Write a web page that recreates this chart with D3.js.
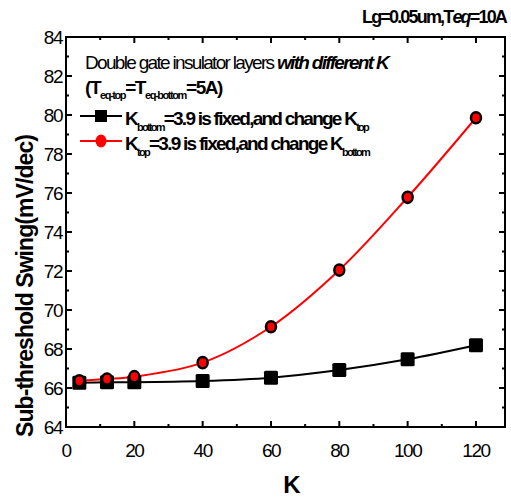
<!DOCTYPE html>
<html>
<head>
<meta charset="utf-8">
<script src="https://cdn.jsdelivr.net/npm/d3@7"></script>
<style>
  body { margin: 0; background: #fff; }
  text { font-family: "Liberation Sans", Arial, sans-serif; }
</style>
</head>
<body>
<svg id="chart" width="511" height="497"></svg>
<script>
// data
const kValues = [3.9, 12, 20, 40, 60, 80, 100, 120];
const swingTopChange = [66.27, 66.3, 66.3, 66.36, 66.53, 66.92, 67.47, 68.19];
const swingBottomChange = [66.37, 66.46, 66.58, 67.3, 69.14, 72.05, 75.78, 79.86];
const xTicks = [0, 20, 40, 60, 80, 100, 120];
const yTicks = [64, 66, 68, 70, 72, 74, 76, 78, 80, 82, 84];

const svg = d3.select("#chart");
const pLeft = 66, pRight = 505, pTop = 37, pBottom = 427;

const x = d3.scaleLinear().domain([0, 128.5]).range([pLeft, pRight]);
const y = d3.scaleLinear().domain([64, 84]).range([pBottom, pTop]);

// squeeze a text to a given width with letter spacing (the original font is very tight)
function fitWidth(sel, target) {
  const n = sel.text().length;
  const w = sel.node().getComputedTextLength();
  sel.attr("letter-spacing", (target - w) / n);
}

// frame
svg.append("rect")
  .attr("x", pLeft).attr("y", pTop)
  .attr("width", pRight - pLeft).attr("height", pBottom - pTop)
  .attr("fill", "none").attr("stroke", "#000").attr("stroke-width", 2);

// ticks (inward, all four sides)
const xMinor = d3.range(10, 128, 20);
const yMinor = d3.range(65, 84, 2);
const tickG = svg.append("g").attr("stroke", "#000").attr("stroke-width", 2);
xTicks.forEach(v => {
  tickG.append("line").attr("x1", x(v)).attr("x2", x(v)).attr("y1", pBottom).attr("y2", pBottom - 6);
  tickG.append("line").attr("x1", x(v)).attr("x2", x(v)).attr("y1", pTop).attr("y2", pTop + 6);
});
xMinor.forEach(v => {
  tickG.append("line").attr("x1", x(v)).attr("x2", x(v)).attr("y1", pBottom).attr("y2", pBottom - 3);
  tickG.append("line").attr("x1", x(v)).attr("x2", x(v)).attr("y1", pTop).attr("y2", pTop + 3);
});
yTicks.forEach(v => {
  tickG.append("line").attr("x1", pLeft).attr("x2", pLeft + 6).attr("y1", y(v)).attr("y2", y(v));
  tickG.append("line").attr("x1", pRight).attr("x2", pRight - 6).attr("y1", y(v)).attr("y2", y(v));
});
yMinor.forEach(v => {
  tickG.append("line").attr("x1", pLeft).attr("x2", pLeft + 3).attr("y1", y(v)).attr("y2", y(v));
  tickG.append("line").attr("x1", pRight).attr("x2", pRight - 3).attr("y1", y(v)).attr("y2", y(v));
});

// tick labels
svg.append("g").selectAll("text").data(xTicks).join("text")
  .attr("x", d => x(d)).attr("y", 457)
  .attr("text-anchor", "middle")
  .attr("font-size", 19).attr("letter-spacing", -1.5)
  .text(d => d);
svg.append("g").selectAll("text").data(yTicks).join("text")
  .attr("x", pLeft - 4).attr("y", d => y(d) + 7)
  .attr("text-anchor", "end")
  .attr("font-size", 19).attr("letter-spacing", -1.5)
  .text(d => d);

// axis titles
svg.append("text")
  .attr("x", 292).attr("y", 493)
  .attr("text-anchor", "middle")
  .attr("font-size", 24).attr("font-weight", "bold")
  .text("K");
const yLab = svg.append("text")
  .attr("transform", "translate(33,286) rotate(-90)")
  .attr("text-anchor", "middle")
  .attr("font-size", 23).attr("font-weight", "bold")
  .text("Sub-threshold Swing(mV/dec)");
fitWidth(yLab, 302);

// top right note
const note = svg.append("text")
  .attr("x", 362).attr("y", 23)
  .attr("font-size", 18).attr("font-weight", "bold");
note.append("tspan").text("Lg=0.05um,T");
note.append("tspan").attr("font-style", "italic").text("eq");
note.append("tspan").text("=10A");
fitWidth(note, 144);

// curves
const line = d3.line().curve(d3.curveCatmullRom.alpha(0.5));
const blackPts = kValues.map((k, i) => [x(k), y(swingTopChange[i])]);
const redPts = kValues.map((k, i) => [x(k), y(swingBottomChange[i])]);

svg.append("path").attr("d", line(blackPts))
  .attr("fill", "none").attr("stroke", "#000").attr("stroke-width", 2);
svg.append("path").attr("d", line(redPts))
  .attr("fill", "none").attr("stroke", "#ff0000").attr("stroke-width", 2);

svg.append("g").selectAll("rect").data(blackPts).join("rect")
  .attr("x", d => d[0] - 7).attr("y", d => d[1] - 7)
  .attr("width", 14).attr("height", 14)
  .attr("fill", "#000").attr("rx", 1.5);
svg.append("g").selectAll("ellipse").data(redPts).join("ellipse")
  .attr("cx", d => d[0]).attr("cy", d => d[1])
  .attr("rx", 5).attr("ry", 5.6)
  .attr("fill", "#ff0000").attr("stroke", "#000").attr("stroke-width", 2.5);

// annotation text
const t1 = svg.append("text")
  .attr("x", 85).attr("y", 69)
  .attr("font-size", 19);
t1.append("tspan").text("Double gate insulator layers ");
t1.append("tspan").attr("font-weight", "bold").attr("font-style", "italic").text("with different K");
fitWidth(t1, 303);

const t2 = svg.append("text")
  .attr("x", 85).attr("y", 94)
  .attr("font-size", 19).attr("font-weight", "bold");
t2.append("tspan").text("(T");
t2.append("tspan").attr("font-size", 11).attr("dy", 5).text("eq-top");
t2.append("tspan").attr("dy", -5).text("=T");
t2.append("tspan").attr("font-size", 11).attr("dy", 5).text("eq-bottom");
t2.append("tspan").attr("dy", -5).text("=5A)");
fitWidth(t2, 137);

// legend
const legendRows = [
  { y: 116, color: "#000", marker: "square", main: "=3.9 is fixed,and change K", sub1: "bottom", sub2: "top", len: 243 },
  { y: 141, color: "#ff0000", marker: "circle", main: "=3.9 is fixed,and change K", sub1: "top", sub2: "bottom", len: 244 }
];
legendRows.forEach(r => {
  svg.append("line").attr("x1", 80).attr("x2", 122).attr("y1", r.y).attr("y2", r.y)
    .attr("stroke", r.color).attr("stroke-width", 2);
  if (r.marker === "square") {
    svg.append("rect").attr("x", 95).attr("y", r.y - 6).attr("width", 12).attr("height", 12).attr("fill", "#000");
  } else {
    svg.append("ellipse").attr("cx", 101).attr("cy", r.y).attr("rx", 5.5).attr("ry", 6.5).attr("fill", "#ff0000");
  }
  const t = svg.append("text").attr("x", 125).attr("y", r.y + 8.5)
    .attr("font-size", 19).attr("font-weight", "bold");
  t.append("tspan").text("K");
  t.append("tspan").attr("font-size", 11).attr("dy", 6).text(r.sub1);
  t.append("tspan").attr("dy", -6).text(r.main);
  t.append("tspan").attr("font-size", 11).attr("dy", 6).text(r.sub2);
  fitWidth(t, r.len);
});
</script>
</body>
</html>
